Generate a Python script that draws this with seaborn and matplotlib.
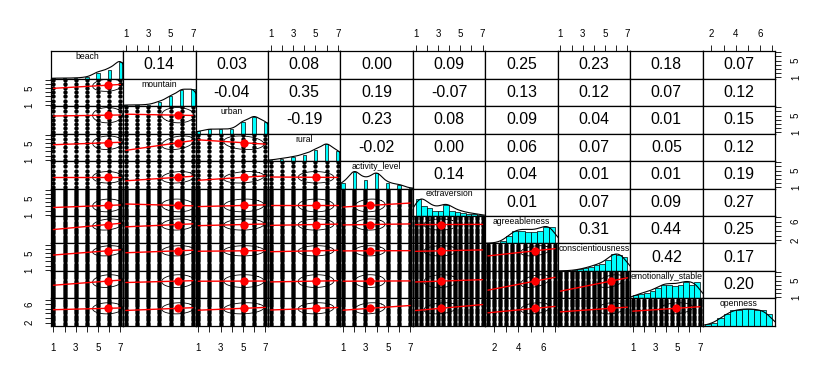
import matplotlib

matplotlib.use("Agg")
import matplotlib.pyplot as plt
import numpy as np
import seaborn as sns

names = ["beach", "mountain", "urban", "rural", "activity_level",
         "extraversion", "agreeableness", "conscientiousness", "emotionally_stable", "openness"]

# lowest observed value and step of each item (likert 1-7, big five are two-item means)
lowest = [1, 1, 1, 1, 1, 1, 1.5, 1, 1, 1.5]
step = [1, 1, 1, 1, 1, 0.5, 0.5, 0.5, 0.5, 0.5]

# histogram bar heights relative to the tallest bar
hist_beach = [0.02, 0.02, 0.03, 0.07, 0.35, 0.50, 1.00]
hist_mountain = [0.06, 0.06, 0.08, 0.25, 0.56, 0.94, 1.00]
hist_urban = [0.12, 0.25, 0.25, 0.25, 0.69, 1.00, 0.69]
hist_rural = [0.06, 0.14, 0.24, 0.38, 0.64, 1.00, 0.58]
hist_activity = [0.31, 1.00, 0.51, 0.90, 0.31, 0.22, 0.02]
# big five: bins of width 0.5 starting at the lowest value
hist_extraversion = [1.00, 0.60, 0.45, 0.31, 0.31, 0.64, 0.27, 0.24, 0.16, 0.12, 0.09, 0.07]
hist_agreeableness = [0.02, 0.04, 0.12, 0.46, 0.71, 0.75, 0.69, 0.69, 0.71, 1.00, 1.00]
hist_conscientiousness = [0.01, 0.02, 0.04, 0.10, 0.16, 0.24, 0.36, 0.40, 0.64, 1.00, 0.96, 0.80]
hist_emotional = [0.22, 0.26, 0.35, 0.44, 0.59, 0.81, 0.81, 0.72, 0.81, 1.00, 0.81, 0.96]
hist_openness = [0.11, 0.15, 0.49, 0.68, 0.94, 0.94, 1.00, 1.00, 0.94, 0.94, 0.72]
hists = [hist_beach, hist_mountain, hist_urban, hist_rural, hist_activity,
         hist_extraversion, hist_agreeableness, hist_conscientiousness, hist_emotional, hist_openness]

means = [5.85, 5.66, 5.08, 5.06, 3.40, 3.25, 5.38, 5.52, 4.86, 5.10]
sds = [1.34, 1.45, 1.80, 1.60, 1.35, 1.50, 1.20, 1.20, 1.50, 1.20]

# upper triangle of the correlation matrix, row by row
cor_rows = [
    [0.14, 0.03, 0.08, 0.00, 0.09, 0.25, 0.23, 0.18, 0.07],
    [-0.04, 0.35, 0.19, -0.07, 0.13, 0.12, 0.07, 0.12],
    [-0.19, 0.23, 0.08, 0.09, 0.04, 0.01, 0.15],
    [-0.02, 0.00, 0.06, 0.07, 0.05, 0.12],
    [0.14, 0.04, 0.01, 0.01, 0.19],
    [0.01, 0.07, 0.09, 0.27],
    [0.31, 0.44, 0.25],
    [0.42, 0.17],
    [0.20],
]

n = len(names)
cor = np.eye(n)
for i, row in enumerate(cor_rows):
    for k, r in enumerate(row):
        cor[i, i + 1 + k] = cor[i + 1 + k, i] = r

sns.set_theme(style="white")
plt.rcParams["font.family"] = ["Liberation Sans", "DejaVu Sans"]
plt.rcParams["text.color"] = "black"
plt.rcParams["xtick.color"] = "black"
plt.rcParams["ytick.color"] = "black"


def levels(i):
    return np.arange(lowest[i], 7 + step[i] / 2, step[i])


def lims(i):
    pad = 0.04 * (7 - lowest[i])
    return lowest[i] - pad, 7 + pad


def ticks(i):
    return np.arange(np.ceil(lowest[i]), 8)


def kde(i, xs):
    lv = levels(i)
    h = np.asarray(hists[i], dtype=float)
    if step[i] == 1:
        centers = lv
    else:
        centers = lowest[i] + 0.25 + 0.5 * np.arange(len(h))
    bw = 0.5
    d = (np.exp(-0.5 * ((xs[:, None] - centers[None, :]) / bw) ** 2) * h).sum(axis=1)
    return d / d.max()


fig, axes = plt.subplots(n, n, figsize=(8.27, 3.77), dpi=100)
fig.subplots_adjust(left=0.0613, right=0.9371, top=0.8647, bottom=0.1353, wspace=0, hspace=0)

for i in range(n):
    for j in range(n):
        ax = axes[i, j]
        ax.set_xlim(*lims(j))
        ax.set_xticks([])
        ax.set_yticks([])
        for sp in ax.spines.values():
            sp.set_color("black")
            sp.set_linewidth(0.9)
        if i == j:
            ax.set_ylim(0, 1.62)
            h = hists[i]
            if step[i] == 1:
                ax.bar(levels(i), h, width=12 / 41, color="#00FFFF", edgecolor="black", linewidth=0.5)
            else:
                edges = lowest[i] + 0.5 * np.arange(len(h))
                ax.bar(edges, h, width=0.5, align="edge", color="#00FFFF", edgecolor="black", linewidth=0.5)
            xs = np.linspace(lowest[i] - 1.5, 8.5, 300)
            ax.plot(xs, kde(i, xs), color="black", lw=0.8)
            ax.text(0.5, 0.80, names[i], transform=ax.transAxes, ha="center", va="center", fontsize=6.2)
        elif i < j:
            ax.set_ylim(*lims(i))
            ax.text(0.5, 0.5, f"{cor[i, j]:.2f}", transform=ax.transAxes, ha="center", va="center",
                    fontsize=11.4)
        else:
            ax.set_ylim(*lims(i))
            gx, gy = np.meshgrid(levels(j), levels(i))
            sns.scatterplot(x=gx.ravel(), y=gy.ravel(), ax=ax, color="black", s=10, linewidth=0,
                            legend=False)
            r = cor[i, j]
            theta = np.sign(r) / np.sqrt(2) if abs(r) > 0 else 1 / np.sqrt(2)
            ang = np.linspace(0, 2 * np.pi, 52)
            circle = np.column_stack([np.cos(ang), np.sin(ang)])
            shape = np.diag([np.sqrt(1 + r), np.sqrt(1 - r)]) @ np.array([[theta, theta], [-theta, theta]])
            ell = circle @ shape
            ax.plot(ell[:, 0] * sds[j] + means[j], ell[:, 1] * sds[i] + means[i], color="black", lw=0.6)
            ax.scatter([means[j]], [means[i]], color="red", s=36, zorder=4, linewidths=0)
            lx = np.array([levels(j)[0], levels(j)[-1]])
            ly = means[i] + r * sds[i] / sds[j] * (lx - means[j])
            ax.plot(lx, ly, color="red", lw=1.0, zorder=3)

        # outer axes, alternating sides as in pairs()
        if i == 0 and j % 2 == 1:
            t = ticks(j)
            ax.set_xticks(t)
            ax.set_xticklabels([f"{v:g}" if k % 2 == 0 else "" for k, v in enumerate(t)])
            ax.tick_params(axis="x", direction="out", length=4.5, width=0.6, labelsize=7, pad=4.5,
                           top=True, labeltop=True, bottom=False, labelbottom=False)
        if i == n - 1 and j % 2 == 0:
            t = ticks(j)
            ax.set_xticks(t)
            ax.set_xticklabels([f"{v:g}" if k % 2 == 0 else "" for k, v in enumerate(t)])
            ax.tick_params(axis="x", direction="out", length=4.5, width=0.6, labelsize=7, pad=7.5,
                           top=False, labeltop=False, bottom=True, labelbottom=True)
        if j == 0 and i % 2 == 1:
            t = ticks(i)
            ax.set_yticks(t)
            ax.set_yticklabels([f"{v:g}" if k % 4 == 0 else "" for k, v in enumerate(t)], va="center")
            ax.tick_params(axis="y", direction="out", length=4.5, width=0.6, labelsize=7, pad=7,
                           left=True, labelleft=True, right=False, labelright=False, labelrotation=90)
        if j == n - 1 and i % 2 == 0:
            t = ticks(i)
            ax.set_yticks(t)
            ax.set_yticklabels([f"{v:g}" if k % 4 == 0 else "" for k, v in enumerate(t)], va="center")
            ax.tick_params(axis="y", direction="out", length=4.5, width=0.6, labelsize=7, pad=7,
                           left=False, labelleft=False, right=True, labelright=True, labelrotation=90)

fig.savefig("out.png", dpi=100, facecolor="white")
plt.close(fig)
